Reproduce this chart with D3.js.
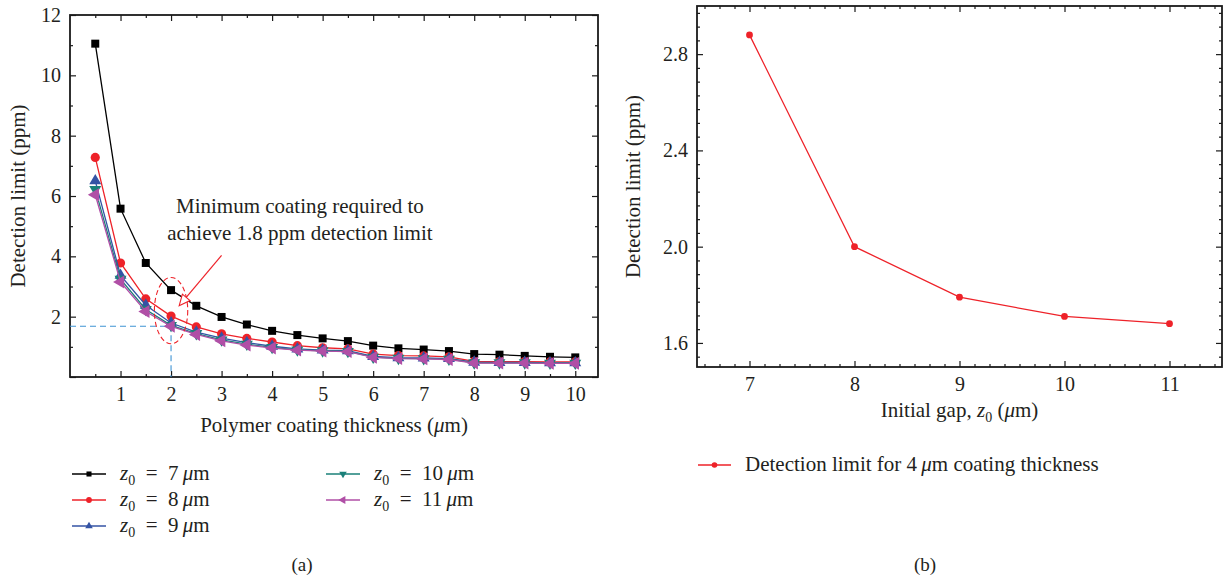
<!DOCTYPE html>
<html>
<head>
<meta charset="utf-8">
<script src="https://cdn.jsdelivr.net/npm/d3@7"></script>
<style>
  html, body { margin: 0; padding: 0; background: #fff; }
  svg { display: block; font-family: "Liberation Serif", "DejaVu Serif", serif; }
</style>
</head>
<body>
<svg id="chart" width="1225" height="578"></svg>
<script>
// ---- Panel (a): detection limit vs polymer coating thickness ----
const thickness = [0.5, 1, 1.5, 2, 2.5, 3, 3.5, 4, 4.5, 5, 5.5, 6, 6.5, 7, 7.5, 8, 8.5, 9, 9.5, 10];
const limitZ7  = [11.05, 5.58, 3.78, 2.88, 2.36, 1.99, 1.74, 1.53, 1.39, 1.28, 1.19, 1.04, 0.95, 0.91, 0.86, 0.76, 0.74, 0.70, 0.67, 0.65];
const limitZ8  = [7.28, 3.78, 2.59, 2.02, 1.66, 1.43, 1.28, 1.16, 1.04, 0.97, 0.93, 0.76, 0.71, 0.70, 0.67, 0.52, 0.51, 0.51, 0.50, 0.50];
const limitZ9  = [6.50, 3.37, 2.38, 1.79, 1.49, 1.29, 1.14, 1.02, 0.93, 0.89, 0.87, 0.68, 0.64, 0.63, 0.61, 0.49, 0.48, 0.48, 0.47, 0.47];
const limitZ10 = [6.22, 3.24, 2.24, 1.71, 1.44, 1.23, 1.09, 0.98, 0.90, 0.87, 0.85, 0.66, 0.62, 0.61, 0.59, 0.47, 0.47, 0.47, 0.46, 0.46];
const limitZ11 = [6.04, 3.15, 2.17, 1.68, 1.41, 1.20, 1.06, 0.96, 0.89, 0.86, 0.84, 0.65, 0.61, 0.60, 0.58, 0.46, 0.46, 0.46, 0.45, 0.45];
const gapNames = ["7", "8", "9", "10", "11"];
const xTicksA = [1, 2, 3, 4, 5, 6, 7, 8, 9, 10];
const yTicksA = [2, 4, 6, 8, 10, 12];

// 1.8 ppm guide: target limit and the coating where it is reached
const guideThickness = 2;
const guideLimit = 1.68;
// callout: ellipse centre/radii and arrow start/end (data units)
const calloutEllipse = [2, 2.2, 0.33, 1.1];
const calloutArrow = [[3.0, 4.03], [2.16, 2.36]];
const calloutText = ["Minimum coating required to", "achieve 1.8 ppm detection limit"];
const calloutTextPos = [4.55, 5.43, 4.53];

// ---- Panel (b): detection limit at fixed coating vs initial gap ----
const initialGap = [7, 8, 9, 10, 11];
const limitVsGap = [2.88, 2.00, 1.79, 1.71, 1.68];
const xTicksB = [7, 8, 9, 10, 11];
const yTicksB = [1.6, 2.0, 2.4, 2.8];

const svg = d3.select("#chart");
svg.append("rect").attr("width", 1225).attr("height", 578).attr("fill", "#fff");

const axisColor = "#1a1a1a";
const textColor = "#231f20";
const tickFont = 20;
const titleFont = 21;

// ---------- Panel (a) ----------
const A = { left: 70, right: 598, top: 15, bottom: 377 };
const xa = d3.scaleLinear().domain([0, 10.45]).range([A.left, A.right]);
const ya = d3.scaleLinear().domain([0, 12]).range([A.bottom, A.top]);

function styleAxis(g) {
  g.select(".domain").remove();
  g.selectAll("line").attr("stroke", axisColor).attr("stroke-width", 1.2);
  g.selectAll("text").attr("fill", textColor).attr("font-size", tickFont)
    .attr("font-family", "Liberation Serif, serif");
}

const ga = svg.append("g");
const xMinorA = d3.range(0.5, 10.45, 1);
const yMinorA = d3.range(1, 12, 2);
const yMajorA = d3.range(0, 12.01, 2);

// bottom
ga.append("g").attr("transform", `translate(0,${A.bottom})`)
  .call(d3.axisBottom(xa).tickValues(xTicksA).tickSize(-6).tickPadding(10).tickFormat(d3.format("d"))).call(styleAxis);
ga.append("g").attr("transform", `translate(0,${A.bottom})`)
  .call(d3.axisBottom(xa).tickValues(xMinorA).tickSize(-3).tickFormat("")).call(styleAxis);
// top
ga.append("g").attr("transform", `translate(0,${A.top})`)
  .call(d3.axisTop(xa).tickValues(xTicksA).tickSize(-6).tickFormat("")).call(styleAxis);
ga.append("g").attr("transform", `translate(0,${A.top})`)
  .call(d3.axisTop(xa).tickValues(xMinorA).tickSize(-3).tickFormat("")).call(styleAxis);
// left
ga.append("g").attr("transform", `translate(${A.left},0)`)
  .call(d3.axisLeft(ya).tickValues(yMajorA).tickSize(-6).tickPadding(9)
    .tickFormat(d => yTicksA.includes(d) ? d3.format("d")(d) : "")).call(styleAxis);
ga.append("g").attr("transform", `translate(${A.left},0)`)
  .call(d3.axisLeft(ya).tickValues(yMinorA).tickSize(-3).tickFormat("")).call(styleAxis);
// right
ga.append("g").attr("transform", `translate(${A.right},0)`)
  .call(d3.axisRight(ya).tickValues(yMajorA).tickSize(-6).tickFormat("")).call(styleAxis);
ga.append("g").attr("transform", `translate(${A.right},0)`)
  .call(d3.axisRight(ya).tickValues(yMinorA).tickSize(-3).tickFormat("")).call(styleAxis);

ga.append("rect").attr("x", A.left).attr("y", A.top)
  .attr("width", A.right - A.left).attr("height", A.bottom - A.top)
  .attr("fill", "none").attr("stroke", axisColor).attr("stroke-width", 1.8);

// guide lines to the 1.8 ppm point
const guideColor = "#3f94d4";
ga.append("path")
  .attr("d", d3.line()([[xa(0), ya(guideLimit)], [xa(guideThickness), ya(guideLimit)], [xa(guideThickness), ya(0)]]))
  .attr("fill", "none").attr("stroke", guideColor).attr("stroke-width", 1.1).attr("stroke-dasharray", "6,4");

const seriesA = [
  { name: gapNames[0], values: limitZ7,  color: "#000000", symbol: d3.symbolSquare,   rot: 0,   size: 64 },
  { name: gapNames[1], values: limitZ8,  color: "#ee2229", symbol: d3.symbolCircle,   rot: 0,   size: 66 },
  { name: gapNames[2], values: limitZ9,  color: "#3453a4", symbol: d3.symbolTriangle, rot: 0,   size: 62 },
  { name: gapNames[3], values: limitZ10, color: "#1a8079", symbol: d3.symbolTriangle, rot: 180, size: 62 },
  { name: gapNames[4], values: limitZ11, color: "#b04fa6", symbol: d3.symbolTriangle, rot: -90, size: 72 }
];

const lineA = d3.line().x(d => xa(d[0])).y(d => ya(d[1]));
seriesA.forEach(s => {
  const pts = thickness.map((t, i) => [t, s.values[i]]);
  const g = ga.append("g");
  g.append("path").attr("d", lineA(pts)).attr("fill", "none")
    .attr("stroke", s.color).attr("stroke-width", 1.3);
  g.selectAll("path.m").data(pts).join("path").attr("class", "m")
    .attr("d", d3.symbol().type(s.symbol).size(s.size))
    .attr("transform", d => `translate(${xa(d[0])},${ya(d[1])}) rotate(${s.rot})`)
    .attr("fill", s.color);
});

// callout ellipse and arrow
const calloutRed = "#ee2229";
ga.append("ellipse")
  .attr("cx", xa(calloutEllipse[0])).attr("cy", ya(calloutEllipse[1]))
  .attr("rx", xa(calloutEllipse[2]) - xa(0)).attr("ry", ya(0) - ya(calloutEllipse[3]))
  .attr("fill", "none").attr("stroke", calloutRed).attr("stroke-width", 1.1).attr("stroke-dasharray", "5,3");

{
  const [p0, p1] = calloutArrow.map(p => [xa(p[0]), ya(p[1])]);
  const ang = Math.atan2(p1[1] - p0[1], p1[0] - p0[0]);
  const len = 11, half = 5;
  const bx = p1[0] - len * Math.cos(ang), by = p1[1] - len * Math.sin(ang);
  const nx = -Math.sin(ang) * half, ny = Math.cos(ang) * half;
  ga.append("line").attr("x1", p0[0]).attr("y1", p0[1]).attr("x2", bx).attr("y2", by)
    .attr("stroke", calloutRed).attr("stroke-width", 1.2);
  ga.append("path")
    .attr("d", `M${p1[0]},${p1[1]}L${bx + nx},${by + ny}L${bx - nx},${by - ny}Z`)
    .attr("fill", "#fff").attr("stroke", calloutRed).attr("stroke-width", 1.1);
}

ga.selectAll("text.callout").data(calloutText).join("text").attr("class", "callout")
  .attr("x", xa(calloutTextPos[0]))
  .attr("y", (d, i) => ya(calloutTextPos[1 + i]))
  .attr("text-anchor", "middle").attr("font-size", titleFont).attr("fill", textColor)
  .text(d => d);

// axis titles
ga.append("text").attr("transform", `translate(25,${(A.top + A.bottom) / 2}) rotate(-90)`)
  .attr("text-anchor", "middle").attr("font-size", titleFont).attr("fill", textColor)
  .text("Detection limit (ppm)");
{
  const t = ga.append("text").attr("x", (A.left + A.right) / 2).attr("y", 432)
    .attr("text-anchor", "middle").attr("font-size", titleFont).attr("fill", textColor);
  t.append("tspan").text("Polymer coating thickness (");
  t.append("tspan").attr("font-style", "italic").text("\u03bc");
  t.append("tspan").text("m)");
}

// legend (two columns)
const legendSlots = [[72, 480], [72, 506], [72, 532], [326, 480], [326, 506]];
seriesA.forEach((s, i) => {
  const [lx, ly] = legendSlots[i];
  const g = ga.append("g").attr("transform", `translate(${lx},${ly - 6})`);
  g.append("line").attr("x1", 0).attr("x2", 34).attr("stroke", s.color).attr("stroke-width", 1.3);
  g.append("path").attr("d", d3.symbol().type(s.symbol).size(s.size * 0.4)())
    .attr("transform", `translate(17,0) rotate(${s.rot})`).attr("fill", s.color);
  const t = g.append("text").attr("x", 48).attr("y", 6).attr("font-size", titleFont).attr("fill", textColor);
  t.append("tspan").attr("font-style", "italic").text("z");
  t.append("tspan").attr("dy", 5).attr("font-size", 14).text("0");
  t.append("tspan").attr("dy", -5).text("\u2002=\u2002" + s.name + "\u2009");
  t.append("tspan").attr("font-style", "italic").text("\u03bc");
  t.append("tspan").text("m");
});

svg.append("text").attr("x", 302).attr("y", 571).attr("text-anchor", "middle")
  .attr("font-size", 19).attr("fill", textColor).text("(a)");

// ---------- Panel (b) ----------
const B = { left: 697, right: 1222, top: 6, bottom: 367 };
const xb = d3.scaleLinear().domain([6.5, 11.5]).range([B.left, B.right]);
const yb = d3.scaleLinear().domain([1.5, 3.0]).range([B.bottom, B.top]);

const gb = svg.append("g");
// six minor ticks between each pair of labelled ticks
const xMinorB = d3.range(-3, 32).filter(k => k % 7 !== 0).map(k => 7 + k / 7).filter(v => v > 6.5 && v < 11.5);
const yMinorB = d3.range(-1, 25).filter(k => k % 7 !== 0).map(k => 1.6 + k * 0.4 / 7).filter(v => v > 1.5 && v < 3.0);

gb.append("g").attr("transform", `translate(0,${B.bottom})`)
  .call(d3.axisBottom(xb).tickValues(xTicksB).tickSize(-6).tickPadding(10).tickFormat(d3.format("d"))).call(styleAxis);
gb.append("g").attr("transform", `translate(0,${B.bottom})`)
  .call(d3.axisBottom(xb).tickValues(xMinorB).tickSize(-3).tickFormat("")).call(styleAxis);
gb.append("g").attr("transform", `translate(0,${B.top})`)
  .call(d3.axisTop(xb).tickValues(xTicksB).tickSize(-6).tickFormat("")).call(styleAxis);
gb.append("g").attr("transform", `translate(0,${B.top})`)
  .call(d3.axisTop(xb).tickValues(xMinorB).tickSize(-3).tickFormat("")).call(styleAxis);
gb.append("g").attr("transform", `translate(${B.left},0)`)
  .call(d3.axisLeft(yb).tickValues(yTicksB).tickSize(-6).tickPadding(9).tickFormat(d3.format(".1f"))).call(styleAxis);
gb.append("g").attr("transform", `translate(${B.left},0)`)
  .call(d3.axisLeft(yb).tickValues(yMinorB).tickSize(-3).tickFormat("")).call(styleAxis);
gb.append("g").attr("transform", `translate(${B.right},0)`)
  .call(d3.axisRight(yb).tickValues(yTicksB).tickSize(-6).tickFormat("")).call(styleAxis);
gb.append("g").attr("transform", `translate(${B.right},0)`)
  .call(d3.axisRight(yb).tickValues(yMinorB).tickSize(-3).tickFormat("")).call(styleAxis);

gb.append("rect").attr("x", B.left).attr("y", B.top)
  .attr("width", B.right - B.left).attr("height", B.bottom - B.top)
  .attr("fill", "none").attr("stroke", axisColor).attr("stroke-width", 1.8);

const redB = "#ee2229";
const ptsB = initialGap.map((g, i) => [g, limitVsGap[i]]);
gb.append("path").attr("d", d3.line().x(d => xb(d[0])).y(d => yb(d[1]))(ptsB))
  .attr("fill", "none").attr("stroke", redB).attr("stroke-width", 1.3);
gb.selectAll("circle.pt").data(ptsB).join("circle").attr("class", "pt")
  .attr("cx", d => xb(d[0])).attr("cy", d => yb(d[1])).attr("r", 3.4).attr("fill", redB);

gb.append("text").attr("transform", `translate(640,${(B.top + B.bottom) / 2}) rotate(-90)`)
  .attr("text-anchor", "middle").attr("font-size", titleFont).attr("fill", textColor)
  .text("Detection limit (ppm)");
{
  const t = gb.append("text").attr("x", (B.left + B.right) / 2).attr("y", 417)
    .attr("text-anchor", "middle").attr("font-size", titleFont).attr("fill", textColor);
  t.append("tspan").text("Initial gap, ");
  t.append("tspan").attr("font-style", "italic").text("z");
  t.append("tspan").attr("dy", 5).attr("font-size", 14).text("0");
  t.append("tspan").attr("dy", -5).text(" (");
  t.append("tspan").attr("font-style", "italic").text("\u03bc");
  t.append("tspan").text("m)");
}
{
  const g = gb.append("g").attr("transform", "translate(698,465)");
  g.append("line").attr("x1", 0).attr("x2", 33).attr("stroke", redB).attr("stroke-width", 1.3);
  g.append("circle").attr("cx", 16.5).attr("r", 2.8).attr("fill", redB);
  const t = g.append("text").attr("x", 47).attr("y", 6).attr("font-size", titleFont).attr("fill", textColor);
  t.append("tspan").text("Detection limit for 4\u2009");
  t.append("tspan").attr("font-style", "italic").text("\u03bc");
  t.append("tspan").text("m coating thickness");
}

svg.append("text").attr("x", 925).attr("y", 571).attr("text-anchor", "middle")
  .attr("font-size", 19).attr("fill", textColor).text("(b)");
</script>
</body>
</html>
